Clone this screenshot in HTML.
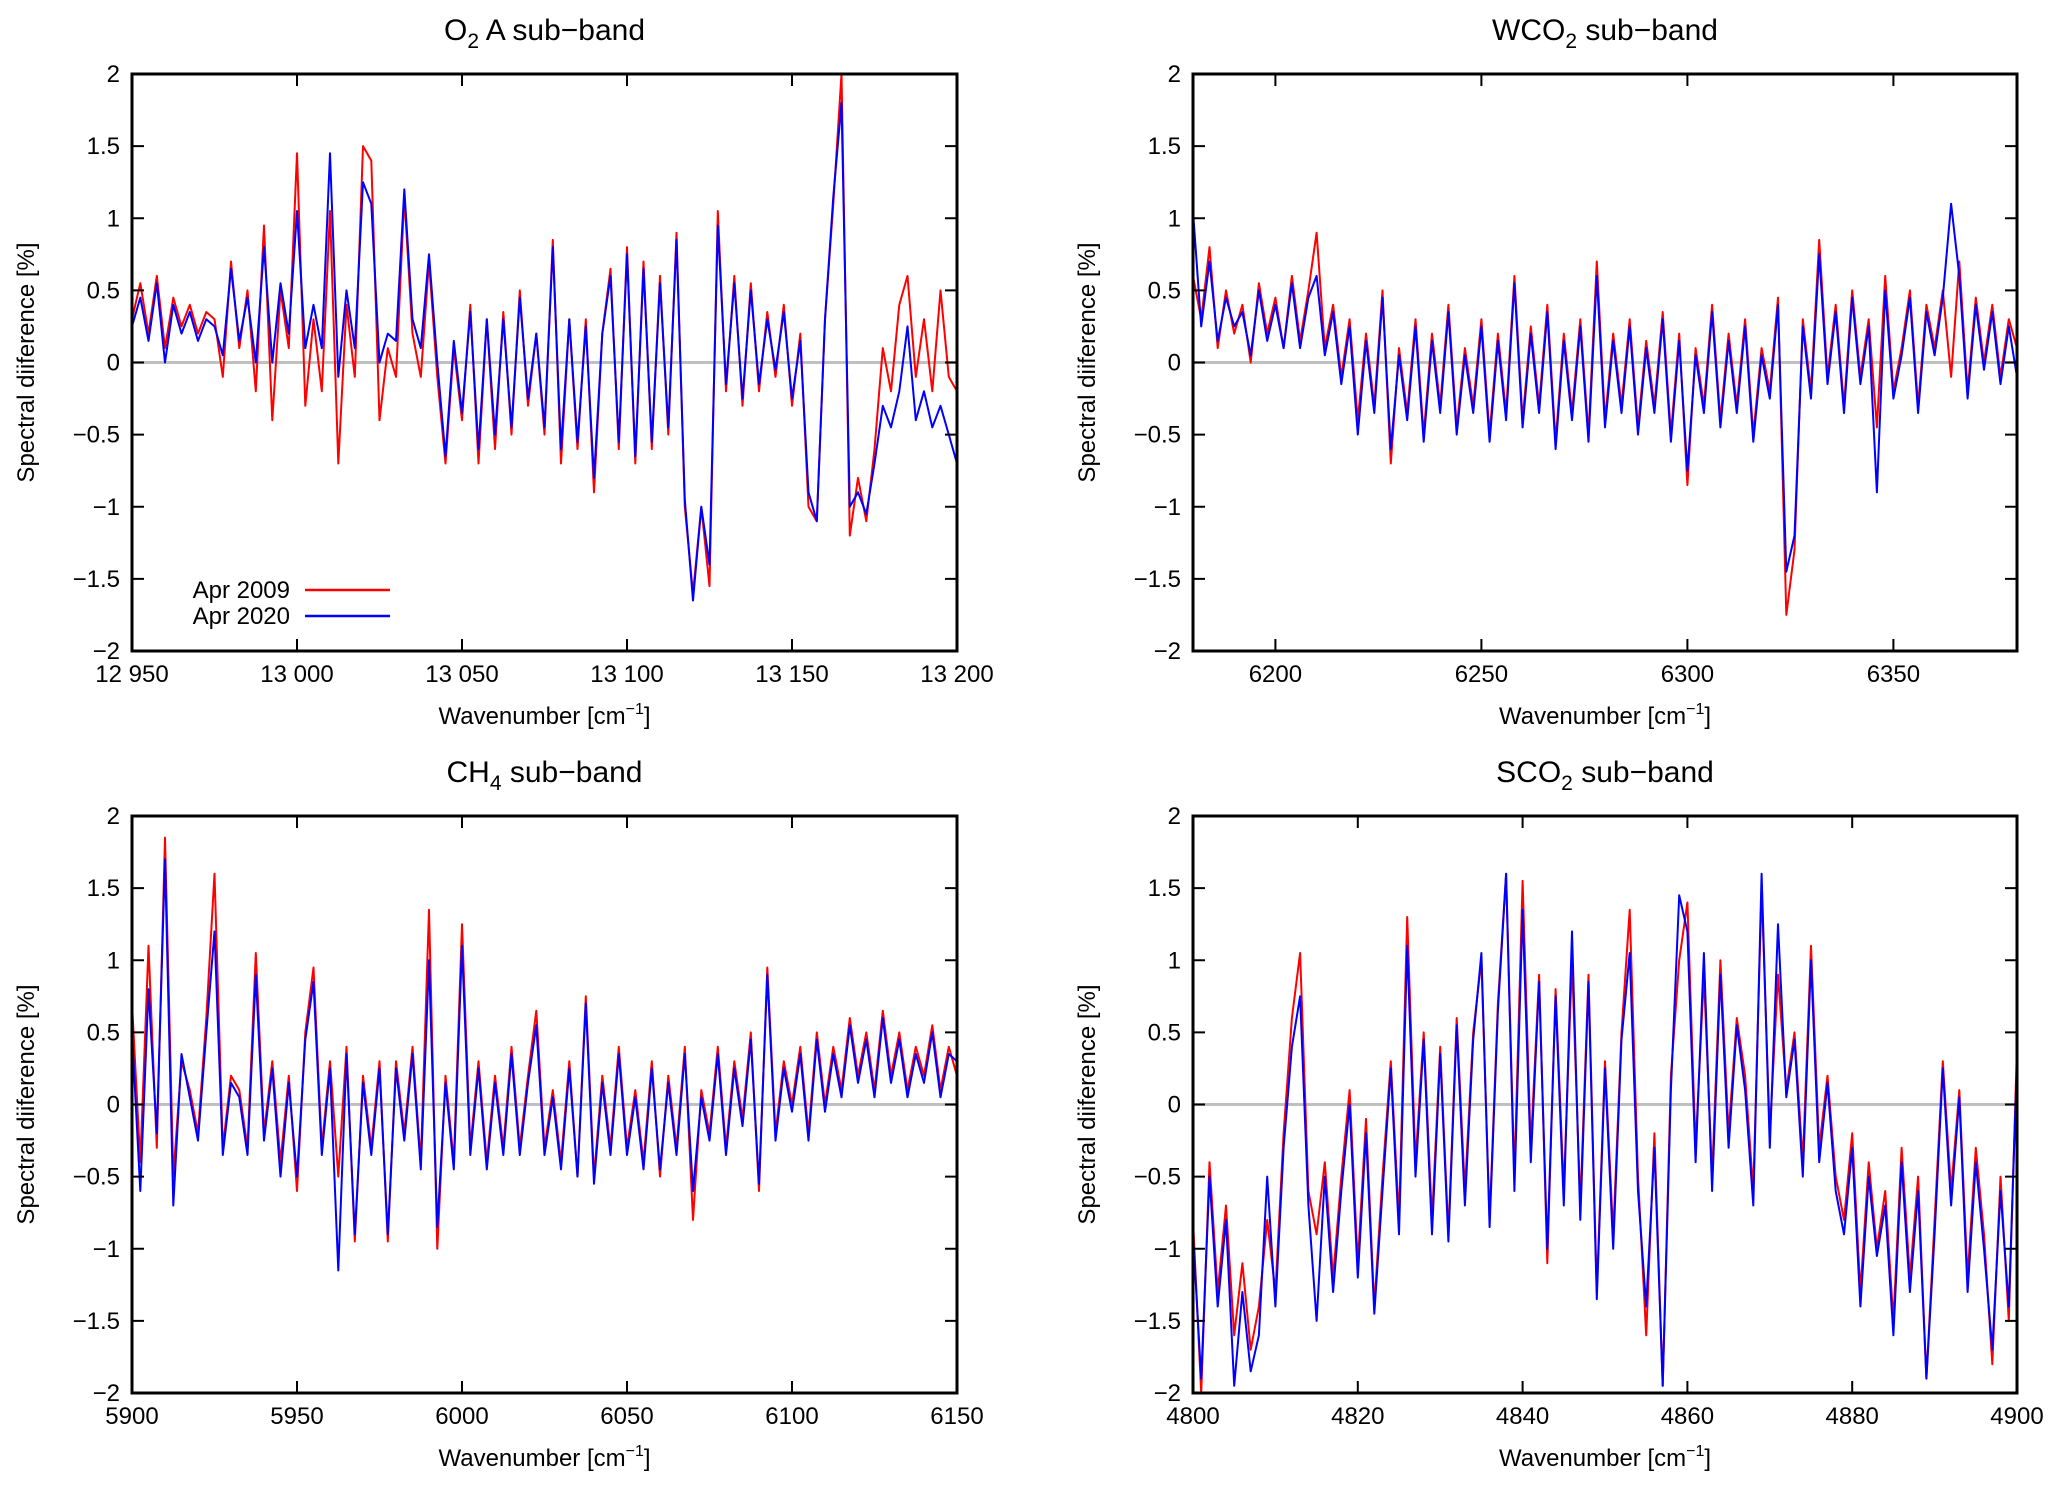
<!DOCTYPE html>
<html><head><meta charset="utf-8"><style>
html,body{margin:0;padding:0;background:#fff;}
svg{display:block;font-family:"Liberation Sans",Arial,sans-serif;}
</style></head><body>
<svg id="chart" width="2067" height="1494" viewBox="0 0 2067 1494" xmlns="http://www.w3.org/2000/svg"></svg>
<script>
// ---- O2 A sub-band (x = 12950 + 2.5*i) ----
const o2Start = 12950, o2Step = 2.5;
const o2Red = [0.3,0.55,0.2,0.6,0.1,0.45,0.25,0.4,0.2,0.35,0.3,-0.1,0.7,0.1,0.5,-0.2,0.95,-0.4,0.5,0.1,1.45,-0.3,0.3,-0.2,1.05,-0.7,0.4,-0.1,1.5,1.4,-0.4,0.1,-0.1,1.15,0.2,-0.1,0.7,-0.1,-0.7,0.1,-0.4,0.4,-0.7,0.3,-0.6,0.35,-0.5,0.5,-0.3,0.2,-0.5,0.85,-0.7,0.3,-0.6,0.3,-0.9,0.2,0.65,-0.6,0.8,-0.7,0.7,-0.6,0.6,-0.5,0.9,-1.0,-1.6,-1.0,-1.55,1.05,-0.2,0.6,-0.3,0.55,-0.2,0.35,-0.1,0.4,-0.3,0.2,-1.0,-1.1,0.3,1.1,2.0,-1.2,-0.8,-1.1,-0.6,0.1,-0.2,0.4,0.6,-0.1,0.3,-0.2,0.5,-0.1,-0.2];
const o2Blue = [0.25,0.45,0.15,0.55,0.0,0.4,0.2,0.35,0.15,0.3,0.25,0.05,0.65,0.15,0.45,0.0,0.8,0.0,0.55,0.2,1.05,0.1,0.4,0.1,1.45,-0.1,0.5,0.1,1.25,1.1,0.0,0.2,0.15,1.2,0.3,0.1,0.75,0.0,-0.65,0.15,-0.35,0.35,-0.6,0.3,-0.5,0.3,-0.45,0.45,-0.25,0.2,-0.45,0.8,-0.6,0.3,-0.55,0.25,-0.8,0.2,0.6,-0.55,0.75,-0.65,0.65,-0.55,0.55,-0.45,0.85,-0.95,-1.65,-1.0,-1.4,0.95,-0.15,0.55,-0.25,0.5,-0.15,0.3,-0.05,0.35,-0.25,0.15,-0.9,-1.1,0.3,1.15,1.8,-1.0,-0.9,-1.05,-0.7,-0.3,-0.45,-0.2,0.25,-0.4,-0.2,-0.45,-0.3,-0.5,-0.7];
// ---- WCO2 sub-band (x = 6180 + 2*i) ----
const wStart = 6180, wStep = 2;
const wRed = [0.6,0.3,0.8,0.1,0.5,0.2,0.4,0.0,0.55,0.2,0.45,0.1,0.6,0.15,0.5,0.9,0.1,0.4,-0.1,0.3,-0.4,0.2,-0.3,0.5,-0.7,0.1,-0.35,0.3,-0.5,0.2,-0.3,0.4,-0.45,0.1,-0.3,0.3,-0.5,0.2,-0.35,0.6,-0.4,0.25,-0.3,0.4,-0.55,0.2,-0.35,0.3,-0.5,0.7,-0.4,0.2,-0.3,0.3,-0.45,0.15,-0.3,0.35,-0.5,0.2,-0.85,0.1,-0.3,0.4,-0.4,0.2,-0.3,0.3,-0.5,0.1,-0.2,0.45,-1.75,-1.3,0.3,-0.2,0.85,-0.1,0.4,-0.3,0.5,-0.1,0.3,-0.45,0.6,-0.2,0.1,0.5,-0.3,0.4,0.1,0.5,-0.1,0.7,-0.2,0.45,0.0,0.4,-0.1,0.3,0.1];
const wBlue = [1.05,0.25,0.7,0.15,0.45,0.25,0.35,0.05,0.5,0.15,0.4,0.1,0.55,0.1,0.45,0.6,0.05,0.35,-0.15,0.25,-0.5,0.15,-0.35,0.45,-0.6,0.05,-0.4,0.25,-0.55,0.15,-0.35,0.35,-0.5,0.05,-0.35,0.25,-0.55,0.15,-0.4,0.55,-0.45,0.2,-0.35,0.35,-0.6,0.15,-0.4,0.25,-0.55,0.6,-0.45,0.15,-0.35,0.25,-0.5,0.1,-0.35,0.3,-0.55,0.15,-0.75,0.05,-0.35,0.35,-0.45,0.15,-0.35,0.25,-0.55,0.05,-0.25,0.4,-1.45,-1.2,0.25,-0.25,0.75,-0.15,0.35,-0.35,0.45,-0.15,0.25,-0.9,0.5,-0.25,0.05,0.45,-0.35,0.35,0.05,0.45,1.1,0.6,-0.25,0.4,-0.05,0.35,-0.15,0.25,-0.1];
// ---- CH4 sub-band (x = 5900 + 2.5*i) ----
const cStart = 5900, cStep = 2.5;
const cRed = [0.7,-0.4,1.1,-0.3,1.85,-0.5,0.3,0.1,-0.2,0.6,1.6,-0.3,0.2,0.1,-0.3,1.05,-0.2,0.3,-0.4,0.2,-0.6,0.5,0.95,-0.3,0.3,-0.5,0.4,-0.95,0.2,-0.3,0.3,-0.95,0.3,-0.2,0.4,-0.4,1.35,-1.0,0.2,-0.4,1.25,-0.3,0.3,-0.4,0.2,-0.3,0.4,-0.3,0.2,0.65,-0.3,0.1,-0.4,0.3,-0.5,0.75,-0.5,0.2,-0.3,0.4,-0.3,0.1,-0.4,0.3,-0.5,0.2,-0.3,0.4,-0.8,0.1,-0.2,0.4,-0.3,0.3,-0.1,0.5,-0.6,0.95,-0.2,0.3,0.0,0.4,-0.2,0.5,0.0,0.4,0.1,0.6,0.2,0.5,0.1,0.65,0.2,0.5,0.1,0.4,0.2,0.55,0.1,0.4,0.2];
const cBlue = [0.5,-0.6,0.8,-0.2,1.7,-0.7,0.35,0.05,-0.25,0.5,1.2,-0.35,0.15,0.05,-0.35,0.9,-0.25,0.25,-0.5,0.15,-0.5,0.45,0.85,-0.35,0.25,-1.15,0.35,-0.9,0.15,-0.35,0.25,-0.9,0.25,-0.25,0.35,-0.45,1.0,-0.85,0.15,-0.45,1.1,-0.35,0.25,-0.45,0.15,-0.35,0.35,-0.35,0.15,0.55,-0.35,0.05,-0.45,0.25,-0.5,0.7,-0.55,0.15,-0.35,0.35,-0.35,0.05,-0.45,0.25,-0.45,0.15,-0.35,0.35,-0.6,0.05,-0.25,0.35,-0.35,0.25,-0.15,0.45,-0.55,0.9,-0.25,0.25,-0.05,0.35,-0.25,0.45,-0.05,0.35,0.05,0.55,0.15,0.45,0.05,0.6,0.15,0.45,0.05,0.35,0.15,0.5,0.05,0.35,0.3];
// ---- SCO2 sub-band (x = 4800 + 1*i) ----
const sStart = 4800, sStep = 1;
const sRed = [-0.8,-2.0,-0.4,-1.3,-0.7,-1.6,-1.1,-1.7,-1.4,-0.8,-1.3,-0.2,0.6,1.05,-0.6,-0.9,-0.4,-1.2,-0.5,0.1,-1.1,-0.1,-1.4,-0.5,0.3,-0.8,1.3,-0.4,0.5,-0.8,0.4,-0.9,0.6,-0.6,0.5,1.0,-0.8,0.7,1.6,-0.5,1.55,-0.3,0.9,-1.1,0.8,-0.6,1.0,-0.7,0.9,-1.3,0.3,-0.9,0.5,1.35,-0.5,-1.6,-0.2,-1.95,0.2,1.0,1.4,-0.3,0.9,-0.5,1.0,-0.2,0.6,0.2,-0.6,1.5,-0.2,0.9,0.1,0.5,-0.4,1.1,-0.3,0.2,-0.5,-0.8,-0.2,-1.3,-0.4,-1.0,-0.6,-1.5,-0.3,-1.2,-0.5,-1.9,-0.8,0.3,-0.6,0.1,-1.2,-0.3,-0.9,-1.8,-0.5,-1.5,0.4];
const sBlue = [-0.9,-1.9,-0.5,-1.4,-0.8,-1.95,-1.3,-1.85,-1.6,-0.5,-1.4,-0.3,0.4,0.75,-0.7,-1.5,-0.5,-1.3,-0.6,0.0,-1.2,-0.2,-1.45,-0.6,0.25,-0.9,1.1,-0.5,0.45,-0.9,0.35,-0.95,0.55,-0.7,0.45,1.05,-0.85,0.65,1.6,-0.6,1.35,-0.4,0.85,-1.0,0.75,-0.7,1.2,-0.8,0.85,-1.35,0.25,-1.0,0.45,1.05,-0.6,-1.4,-0.3,-1.95,0.1,1.45,1.2,-0.4,1.05,-0.6,0.9,-0.3,0.55,0.1,-0.7,1.6,-0.3,1.25,0.05,0.45,-0.5,1.0,-0.4,0.15,-0.6,-0.9,-0.3,-1.4,-0.5,-1.05,-0.7,-1.6,-0.4,-1.3,-0.6,-1.9,-0.9,0.25,-0.7,0.05,-1.3,-0.4,-1.0,-1.7,-0.6,-1.4,0.3];
const yTicks = [-2,-1.5,-1,-0.5,0,0.5,1,1.5,2];
const yTickLabels = ["−2","−1.5","−1","−0.5","0","0.5","1","1.5","2"];
const o2Ticks = [12950,13000,13050,13100,13150,13200];
const o2TickLabels = ["12 950","13 000","13 050","13 100","13 150","13 200"];
const wTicks = [6200,6250,6300,6350];
const wTickLabels = ["6200","6250","6300","6350"];
const cTicks = [5900,5950,6000,6050,6100,6150];
const cTickLabels = ["5900","5950","6000","6050","6100","6150"];
const sTicks = [4800,4820,4840,4860,4880,4900];
const sTickLabels = ["4800","4820","4840","4860","4880","4900"];

const NS = "http://www.w3.org/2000/svg";
const svg = document.getElementById('chart');
function mk(tag, attrs, parent){
  const e = document.createElementNS(NS, tag);
  for (const k in attrs) e.setAttribute(k, attrs[k]);
  (parent||svg).appendChild(e);
  return e;
}
function panel(p){
  const g = mk('g', {});
  
  
  const L=p.L,R=p.R,T=p.T,B=p.B;
  const xs = v => L + (v - p.xmin) / (p.xmax - p.xmin) * (R - L);
  const ys = v => B - (v + 2) / 4 * (B - T);
  const t = mk('text', {x:(L+R)/2, y:T-34, 'text-anchor':'middle', 'font-size':30, fill:'#000'}, g);
  
  
  t.innerHTML = p.title;
  const z = mk('line', {x1:L, x2:R, y1:ys(0), y2:ys(0), stroke:'#c0c0c0', 'stroke-width':3}, g);
  
  
  [[p.red,'#ff0000','apr-2009-line'],[p.blue,'#0000ff','apr-2020-line']].forEach(s=>{
    const pts = s[0].map((v,i)=> xs(p.start + i*p.step).toFixed(1) + ',' + ys(v).toFixed(1)).join(' ');
    const pl = mk('polyline', {points:pts, fill:'none', stroke:s[1], 'stroke-width':2, 'stroke-linejoin':'round'}, g);
    
    
  });
  yTicks.forEach((v,i)=>{
    const y = ys(v);
    mk('line', {x1:L, x2:L+12, y1:y, y2:y, stroke:'#000', 'stroke-width':2}, g);
    mk('line', {x1:R-12, x2:R, y1:y, y2:y, stroke:'#000', 'stroke-width':2}, g);
    const lb = mk('text', {x:L-12, y:y+8, 'text-anchor':'end', 'font-size':24}, g);
    
    
    lb.textContent = yTickLabels[i];
  });
  p.ticks.forEach((v,i)=>{
    const x = xs(v);
    mk('line', {x1:x, x2:x, y1:B, y2:B-12, stroke:'#000', 'stroke-width':2}, g);
    mk('line', {x1:x, x2:x, y1:T, y2:T+12, stroke:'#000', 'stroke-width':2}, g);
    const lb = mk('text', {x:x, y:B+31, 'text-anchor':'middle', 'font-size':24}, g);
    
    
    lb.textContent = p.tickLabels[i];
  });
  const fr = mk('rect', {x:L, y:T, width:R-L, height:B-T, fill:'none', stroke:'#000', 'stroke-width':3}, g);
  
  
  const xt = mk('text', {x:(L+R)/2, y:B+73, 'text-anchor':'middle', 'font-size':24}, g);
  
  
  xt.innerHTML = 'Wavenumber [cm<tspan dy="-10" font-size="16">−1</tspan><tspan dy="10">]</tspan>';
  const yt = mk('text', {x:0, y:0, 'text-anchor':'middle', 'font-size':24, transform:'translate('+(L-98)+','+((T+B)/2)+') rotate(-90)'}, g);
  
  
  yt.textContent = 'Spectral diiference [%]';
  return {g, xs, ys};
}
const sub = s => '<tspan dy="8" font-size="21">'+s+'</tspan><tspan dy="-8">';
panel({name:'o2a', title:'O'+sub('2')+' A sub−band</tspan>', L:132,R:957,T:74,B:651, xmin:12950,xmax:13200, start:o2Start, step:o2Step, red:o2Red, blue:o2Blue, ticks:o2Ticks, tickLabels:o2TickLabels});
panel({name:'wco2', title:'WCO'+sub('2')+' sub−band</tspan>', L:1193,R:2017,T:74,B:651, xmin:6180,xmax:6380, start:wStart, step:wStep, red:wRed, blue:wBlue, ticks:wTicks, tickLabels:wTickLabels});
panel({name:'ch4', title:'CH'+sub('4')+' sub−band</tspan>', L:132,R:957,T:816,B:1393, xmin:5900,xmax:6150, start:cStart, step:cStep, red:cRed, blue:cBlue, ticks:cTicks, tickLabels:cTickLabels});
panel({name:'sco2', title:'SCO'+sub('2')+' sub−band</tspan>', L:1193,R:2017,T:816,B:1393, xmin:4800,xmax:4900, start:sStart, step:sStep, red:sRed, blue:sBlue, ticks:sTicks, tickLabels:sTickLabels});
const lg = mk('g', {});


[['Apr 2009','#ff0000',590],['Apr 2020','#0000ff',616]].forEach(e=>{
  const tx = mk('text', {x:290, y:e[2]+8, 'text-anchor':'end', 'font-size':24}, lg);
  
  
  tx.textContent = e[0];
  const ln = mk('line', {x1:305, x2:390, y1:e[2], y2:e[2], stroke:e[1], 'stroke-width':2.5}, lg);
  
  
});
</script>
</body></html>
